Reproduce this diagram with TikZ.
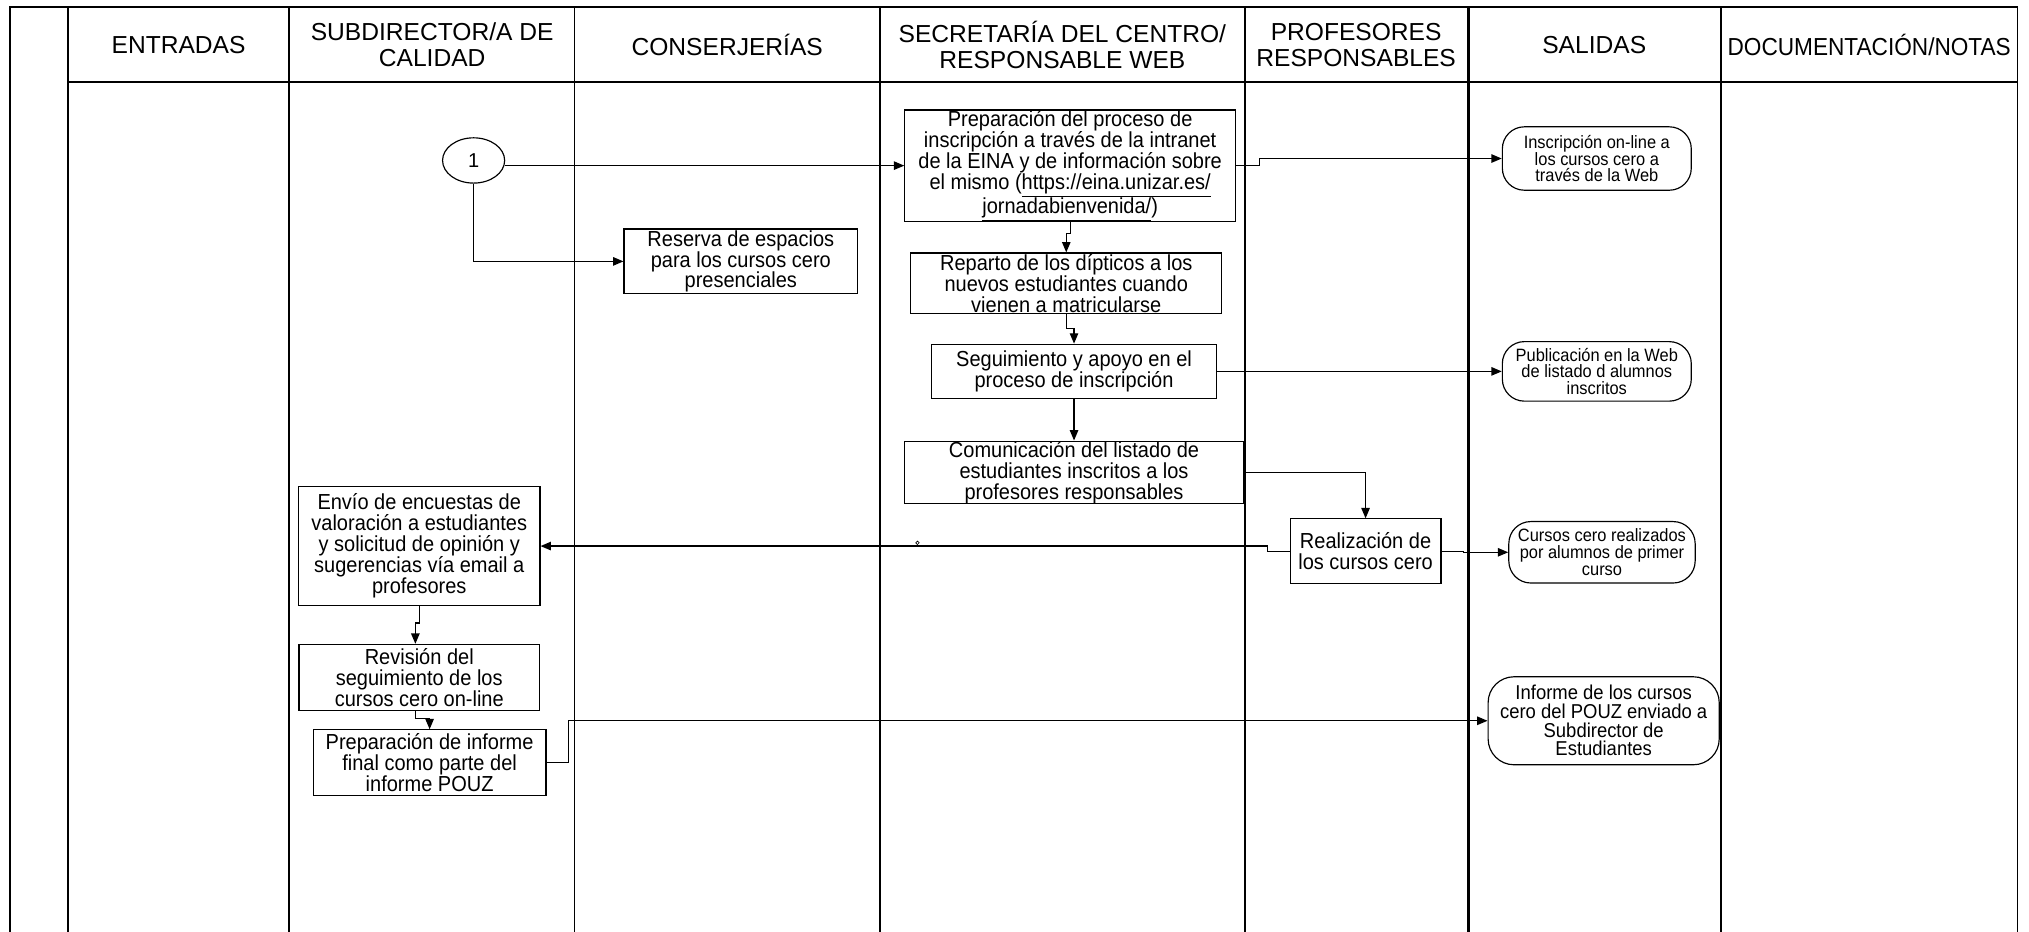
\documentclass[tikz,border=0pt]{standalone}
\usepackage{fontspec}
\usepackage{graphicx}
\setmainfont{Liberation Sans}
\newfontfamily\narrowsans{Liberation Sans}[FakeStretch=0.92]
\usetikzlibrary{arrows.meta,shapes.geometric}
\begin{document}
\begin{tikzpicture}[x=1pt,y=-1pt,
  lane/.style={line width=1.3pt},
  hdr/.style={font=\fontsize{19}{20}\selectfont, align=center, inner sep=0pt},
  proc/.style={draw, line width=0.9pt, rectangle, fill=white, align=center, inner sep=0pt, font=\narrowsans\fontsize{16.8}{16.2}\selectfont},
  outbox/.style={draw, line width=0.9pt, rounded corners=17pt, fill=white, align=center, inner sep=0pt, font=\narrowsans\fontsize{13.8}{12.9}\selectfont},
  conn/.style={line width=1pt, -{Triangle[length=8pt,width=6.5pt]}},
  linkline/.style={line width=1pt}
]
\fill[white] (0,0) rectangle (1568,720);
\useasboundingbox (0,0) rectangle (1568,720);

% swimlane frame
\draw[lane] (7.5,720) -- (7.5,5.5) -- (1559,5.5) -- (1559,720);
\draw[lane] (52.5,63.5) -- (1559,63.5);
\foreach \xx in {52.5,223.5,444,680,962,1330}{
  \draw[lane] (\xx,5.5) -- (\xx,720);
}
\draw[line width=2.2pt] (1134.6,5.5) -- (1134.6,720);

% headers
\node[hdr] (hEnt) at (138,35) {ENTRADAS};
\node[hdr] (hSub) at (334,34.5) {SUBDIRECTOR/A DE\\CALIDAD};
\node[hdr] (hCon) at (562,35) {CONSERJERÍAS};
\node[hdr] (hSec) at (821,34.5) {SECRETARÍA DEL CENTRO/\\RESPONSABLE WEB};
\node[hdr] (hPro) at (1048,34.5) {PROFESORES\\RESPONSABLES};
\node[hdr] (hSal) at (1232,35) {SALIDAS};
\node[hdr] (hDoc) at (1444.5,35) {\scalebox{0.92}[1]{DOCUMENTACIÓN/NOTAS}};

% nodes
\node[draw, ellipse, line width=0.9pt, fill=white, minimum width=48pt, minimum height=35pt, inner sep=0pt,
      font=\fontsize{15.5}{16}\selectfont] (c1) at (366,124) {1};

\node[proc, minimum width=255.5pt, minimum height=86pt] (prep) at (827,128)
  {Preparación del proceso de\\inscripción a través de la intranet\\de la EINA y de información sobre\\el mismo (\underline{https://eina.unizar.es/}\\\underline{jornadabienvenida/})};
\node[proc, minimum width=180.5pt, minimum height=50pt] (reserva) at (572.5,202)
  {Reserva de espacios\\para los cursos cero\\presenciales};
\node[proc, minimum width=240.5pt, minimum height=47pt] (reparto) at (824,219)
  {Reparto de los dípticos a los\\nuevos estudiantes cuando\\vienen a matricularse};
\node[proc, minimum width=220pt, minimum height=42pt] (segui) at (830,287)
  {Seguimiento y apoyo en el\\proceso de inscripción};
\node[proc, minimum width=262pt, minimum height=46pt] (comun) at (830,365)
  {Comunicación del listado de\\estudiantes inscritos a los\\profesores responsables};
\node[proc, minimum width=186.5pt, minimum height=92pt] (envio) at (324,422)
  {Envío de encuestas de\\valoración a estudiantes\\y solicitud de opinión y\\sugerencias vía email a\\profesores};
\node[proc, minimum width=116.6pt, minimum height=50pt] (realiz) at (1055.3,426)
  {Realización de\\los cursos cero};
\node[proc, minimum width=186pt, minimum height=51pt] (revision) at (324,523.5)
  {Revisión del\\seguimiento de los\\cursos cero on-line};
\node[proc, minimum width=180pt, minimum height=51pt] (prepinf) at (332,589.5)
  {Preparación de informe\\final como parte del\\informe POUZ};

\node[outbox, minimum width=146pt, minimum height=49pt] (insc) at (1234,122.5)
  {Inscripción on-line a\\los cursos cero a\\través de la Web};
\node[outbox, minimum width=146pt, minimum height=46pt] (publ) at (1234,287)
  {Publicación en la Web\\de listado d alumnos\\inscritos};
\node[outbox, minimum width=144pt, minimum height=47.5pt] (cursos) at (1238,426.8)
  {Cursos cero realizados\\por alumnos de primer\\curso};
\node[outbox, minimum width=178.6pt, minimum height=68pt, rounded corners=20pt,
      font=\narrowsans\fontsize{15.5}{14.4}\selectfont] (informe) at (1239.3,557)
  {Informe de los cursos\\cero del POUZ enviado a\\Subdirector de\\Estudiantes};

% connectors
\draw[conn] (c1.east |- prep.west) -- (prep.west);
\draw[conn] (c1.south) |- (reserva.west);
\draw[conn] (prep.east) -- ++(18,0) |- (insc.west);
\draw[conn] (prep.south) -- ++(0,9) -| (reparto.north);
\draw[conn] (reparto.south) -- ++(0,11) -| (segui.north);
\draw[conn] (segui.south) -- (comun.north);
\draw[conn] (segui.east) -- (segui.east -| publ.west);
\draw[conn] (comun.east) -| (realiz.north);
\draw[conn] (realiz.west) -- ++(-17,0) |- (envio.east);
\node[draw, circle, line width=0.5pt, inner sep=0pt, minimum size=2.6pt] (hop) at (709,419.5) {};
\draw[conn] (realiz.east) -- ++(17,0) |- (cursos.west);
\draw[conn] (envio.south) -- ++(0,13) -| ([xshift=-3pt]revision.north);
\draw[conn] ([xshift=-3pt]revision.south) -- ++(0,6) -| (prepinf.north);
\draw[conn] (prepinf.east) -- ++(17,0) |- (informe.west);
\end{tikzpicture}
\end{document}
